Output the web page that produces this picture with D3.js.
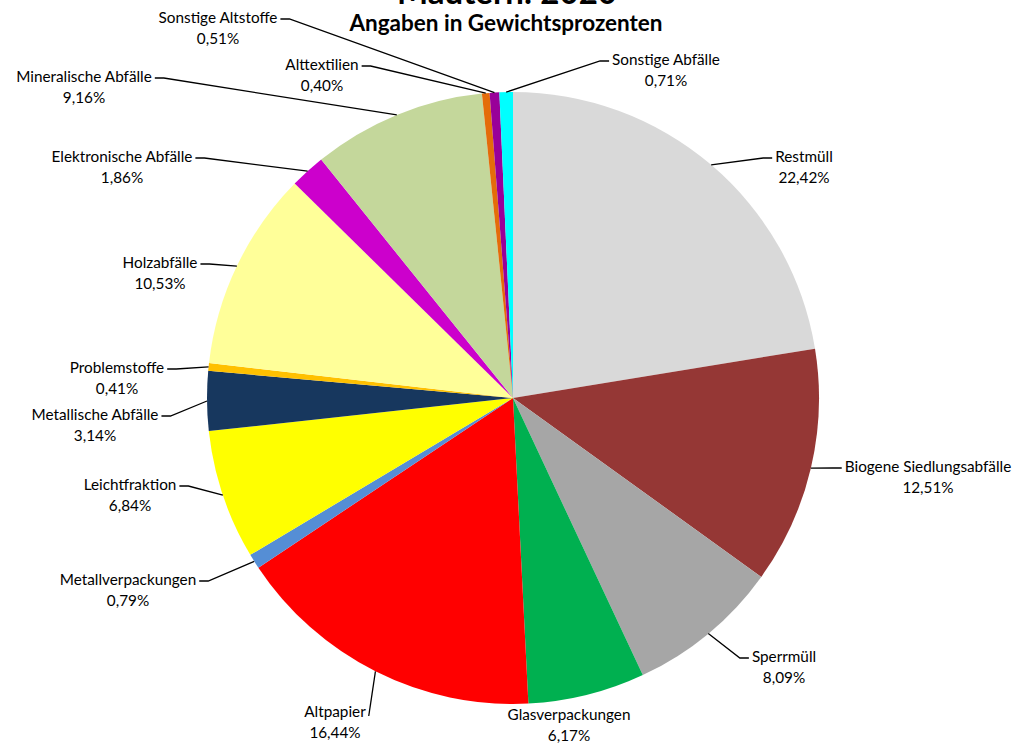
<!doctype html>
<html>
    <head>
        <meta charset="utf-8">
        <title>Abfallanalyse</title>
        <script src="https://d3js.org/d3.v7.min.js"></script>
        <style type="text/css">
            body { margin:0; background:#fff; }
            text { font-family:Lato, "Open Sans", sans-serif; fill:#000; }
        </style>
    </head>
    <body>
      <svg></svg>
      <script type="text/javascript">

        let w = 1027,
            h = 744;

        // data
        let categories = ['Restmüll', 'Biogene Siedlungsabfälle', 'Sperrmüll', 'Glasverpackungen',
                          'Altpapier', 'Metallverpackungen', 'Leichtfraktion', 'Metallische Abfälle',
                          'Problemstoffe', 'Holzabfälle', 'Elektronische Abfälle', 'Mineralische Abfälle',
                          'Alttextilien', 'Sonstige Altstoffe', 'Sonstige Abfälle'];
        let values = [22.42, 12.51, 8.09, 6.17, 16.44, 0.79, 6.84, 3.14, 0.41, 10.53, 1.86, 9.16, 0.40, 0.51, 0.71];
        let colors = ['#d9d9d9', '#953735', '#a6a6a6', '#00b050', '#ff0000', '#558ed5', '#ffff00', '#17375e',
                      '#ffc000', '#ffff99', '#cc00cc', '#c4d79b', '#e46c0a', '#990099', '#00ffff'];

        // label layout: text centre x, first line y, which side the leader attaches to
        let labelPos = [
            [804, 162, 'r'], [928, 472, 'r'], [784, 662, 'r'], [569, 720, 'n'],
            [335, 717, 'l'], [128, 585, 'l'], [130, 490, 'l'], [95, 420, 'l'],
            [117, 373, 'l'], [160, 268, 'l'], [122, 162, 'l'], [84, 82, 'l'],
            [322, 70, 'l'], [218, 23, 'l'], [666, 65, 'r']
        ];

        let cx = 513, cy = 398, r = 306;

        let svg = d3.select('svg')
                    .attr('width', w)
                    .attr('height', h);

        svg.append('text')
           .attr('x', 507).attr('y', 4)
           .attr('text-anchor', 'middle')
           .style('font-size', '33px').style('font-weight', 'bold')
           .text('Mautern: 2020');
        svg.append('text')
           .attr('x', 506).attr('y', 31)
           .attr('text-anchor', 'middle')
           .style('font-size', '22.5px').style('font-weight', 'bold')
           .text('Angaben in Gewichtsprozenten');

        let pie = d3.pie().sort(null).value(function(d) { return d; });
        let arcs = pie(values);
        let arc = d3.arc().innerRadius(0).outerRadius(r);

        let g = svg.append('g').attr('transform', 'translate(' + cx + ',' + cy + ')');
        g.selectAll('path')
         .data(arcs)
         .enter()
         .append('path')
         .attr('d', arc)
         .attr('fill', function(d, i) { return colors[i]; });

        let fmt = function(v) { return v.toFixed(2).replace('.', ',') + '%'; };

        arcs.forEach(function(d, i) {
            let p = labelPos[i];
            let t = svg.append('text')
                       .attr('text-anchor', 'middle')
                       .style('font-size', '15.3px');
            t.append('tspan').attr('x', p[0]).attr('y', p[1]).text(categories[i]);
            t.append('tspan').attr('x', p[0]).attr('y', p[1] + 21).text(fmt(values[i]));
            if (p[2] === 'n') return;

            let tw = t.select('tspan').node().getComputedTextLength();
            let mid = (d.startAngle + d.endAngle) / 2;
            let px = cx + r * Math.sin(mid),
                py = cy - r * Math.cos(mid);
            let ly = p[1] - 4;
            let pts;
            if (categories[i] === 'Altpapier') {
                let lx = p[0] + tw / 2 + 3;
                pts = [[lx, ly + 3], [px, py]];
            } else if (p[2] === 'l') {
                let lx = p[0] + tw / 2 + 3;
                pts = [[lx, ly], [lx + 9, ly], [px, py]];
            } else {
                let lx = p[0] - tw / 2 - 3;
                pts = [[lx, ly], [lx - 9, ly], [px, py]];
            }
            svg.append('path')
               .attr('d', d3.line()(pts))
               .attr('fill', 'none')
               .attr('stroke', '#000')
               .attr('stroke-width', 1.3);
        });
        </script>
    </body>
</html>
